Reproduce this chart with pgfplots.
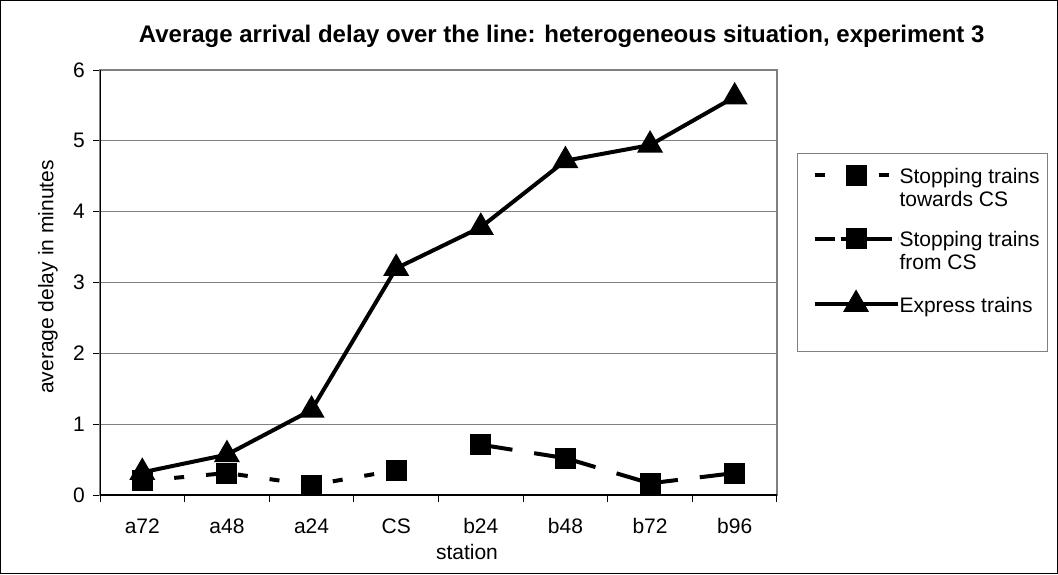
\documentclass[border=0pt]{standalone}
\usepackage{fontspec}
\setmainfont{Liberation Sans}
\usepackage{pgfplots}
\pgfplotsset{compat=1.18}
\begin{document}
\fontsize{21}{23}\selectfont
\begin{tikzpicture}[x=1pt,y=1pt]
\useasboundingbox (0,0) rectangle (1058,574);
\draw[line width=1.3pt] (0.8,0.8) rectangle (1057.2,573.2);
\begin{axis}[
  scale only axis, width=677pt, height=425pt,
  at={(100pt,79pt)}, anchor=south west,
  xmin=0.5, xmax=8.5, ymin=0, ymax=6,
  xtick={0.5,1.5,...,8.5},
  xticklabels={a72,a48,a24,CS,b24,b48,b72,b96,{}},
  x tick label style={xshift=42.3pt, yshift=-8pt, text height=16pt, text depth=0pt},
  ytick={0,...,6},
  yticklabel style={xshift=-1pt},
  /pgf/number format/assume math mode=true,
  ymajorgrids, grid style={draw=gray, line width=1pt},
  tick align=outside, tick pos=left,
  major tick length=7pt,
  tick style={black, line width=1pt},
  axis line style={draw=gray, line width=1.3pt},
  xlabel={station},
  xlabel style={at={(axis description cs:0.542,-0.135)}, anchor=center},
  ylabel={average delay in minutes},
  ylabel style={at={(axis description cs:-0.077,0.513)}, anchor=center, rotate=0},
  title={\fontsize{24}{26}\selectfont\bfseries Average arrival delay over the line: heterogeneous situation, experiment 3},
  title style={at={(axis description cs:0.682,1.064)}, anchor=center},
  legend image code/.code={\path (0pt,0pt) (90pt,0pt);
    \draw[mark repeat=2,mark phase=2,#1] plot coordinates {(7pt,8pt) (48.5pt,8pt) (90pt,8pt)};},
  legend style={at={(1.0295,0.8047)}, anchor=north west, draw=gray, line width=1.2pt,
    inner xsep=8pt, inner ysep=13pt, row sep=17pt, column sep=0pt,
    nodes={inner sep=0pt, text depth=, anchor=base west},
    /tikz/every even column/.style={column sep=3pt}},
  legend cell align=left,
]
\addplot[black, line width=4pt, dash pattern=on 10pt off 22pt,
  mark=square*, mark size=8.5pt, mark options={solid, fill=black}]
  coordinates {(1,0.20) (2,0.31) (3,0.14) (4,0.35)};
\addlegendentry{\begin{tabular}[t]{@{}l@{}}Stopping trains\\towards CS\end{tabular}}
\addplot[black, line width=4pt, dash pattern=on 63pt off 22pt, dash phase=31pt,
  mark=square*, mark size=8.5pt, mark options={solid, fill=black},
  legend image code/.code={\path (0pt,0pt) (90pt,0pt);
    \draw[black, line width=4pt, dash pattern=on 51pt off 6pt, mark=square*, mark size=8.5pt,
      mark options={solid, fill=black}, mark repeat=2, mark phase=2]
      plot coordinates {(7pt,8pt) (48.5pt,8pt) (90pt,8pt)};}]
  coordinates {(5,0.71) (6,0.52) (7,0.165) (8,0.31)};
\addlegendentry{\begin{tabular}[t]{@{}l@{}}Stopping trains\\from CS\end{tabular}}
\addplot[black, line width=4pt,
  mark=triangle*, mark size=11pt, mark options={solid, fill=black}]
  coordinates {(1,0.32) (2,0.57) (3,1.2) (4,3.2) (5,3.78) (6,4.72) (7,4.94) (8,5.62)};
\addlegendentry{\begin{tabular}[t]{@{}l@{}}Express trains\rule[-26pt]{0pt}{26pt}\end{tabular}}
\draw[black, line width=1.3pt] (rel axis cs:0,1) -- (rel axis cs:0,0) -- (rel axis cs:1,0);
\end{axis}
\end{tikzpicture}
\end{document}
